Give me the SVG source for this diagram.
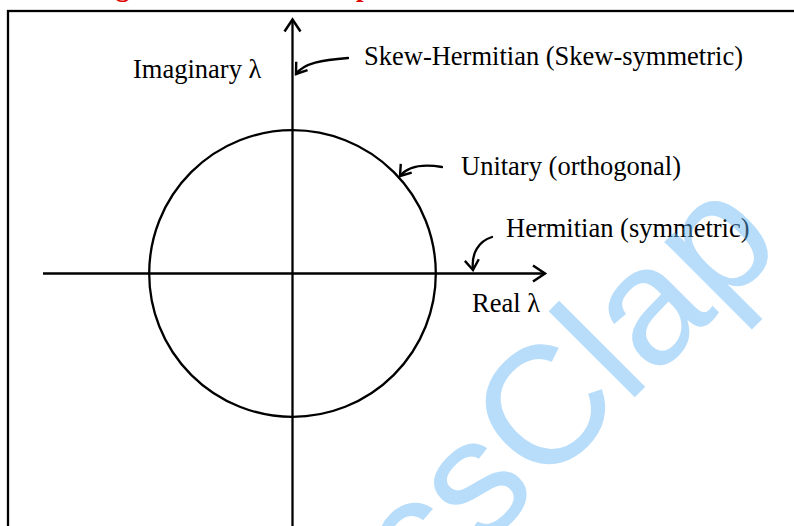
<svg xmlns="http://www.w3.org/2000/svg" width="794" height="526" viewBox="0 0 794 526">
<defs>
<style>
.ln{stroke:#000;stroke-width:2.3;fill:none}
.cv{stroke:#000;stroke-width:2.3;fill:none;stroke-linecap:round}
.lb{font-family:"Liberation Serif","Times New Roman",serif;font-size:26.5px;fill:#000}
.red{font-family:"Liberation Serif","Times New Roman",serif;font-size:27px;font-weight:bold;fill:#e00000}
.wm{font-family:"Liberation Sans",Arial,sans-serif;font-size:168px;fill:#64B5F6;opacity:0.45}
</style>
<marker id="ah" markerUnits="userSpaceOnUse" viewBox="-14 -10 16 20" markerWidth="16" markerHeight="20" refX="0" refY="0" orient="auto" overflow="visible">
<path d="M-12,-8 L0,0 L-12,8" fill="none" stroke="#000" stroke-width="2.5" stroke-linejoin="miter"/>
</marker>
<marker id="ch" markerUnits="userSpaceOnUse" viewBox="-12 -9 14 18" markerWidth="14" markerHeight="18" refX="0" refY="0" orient="auto" overflow="visible">
<path d="M-10,-7 L0,0 L-10,7" fill="none" stroke="#000" stroke-width="2.4" stroke-linejoin="miter"/>
</marker>
</defs>
<rect width="794" height="526" fill="#fff"/>
<text class="red" x="116" y="-4.5">g</text>
<text class="red" x="356" y="-4.5">p</text>
<rect id="frame" x="8" y="11" width="820" height="600" class="ln" stroke-width="2.6"/>
<g id="circle"><circle cx="292.5" cy="273.5" r="143.3" class="ln"/></g>
<g id="connectors">
<line x1="292.5" y1="540" x2="292.5" y2="19.5" class="ln" marker-end="url(#ah)"/>
<line x1="43" y1="273.5" x2="545" y2="273.5" class="ln" marker-end="url(#ah)"/>
<path d="M348,58 C322,60 304,63 296,74" class="cv" marker-end="url(#ch)"/>
<path d="M442,167 C424,164 408,166 400,176" class="cv" marker-end="url(#ch)"/>
<path d="M492,237 C479,241 471,253 473,270" class="cv" marker-end="url(#ch)"/>
</g>
<g id="imag"><text class="lb" x="133" y="78">Imaginary λ</text></g>
<g id="real"><text class="lb" x="472" y="312">Real λ</text></g>
<g id="skew"><text class="lb" x="364" y="65">Skew-Hermitian (Skew-symmetric)</text></g>
<g id="unitary"><text class="lb" x="461" y="175">Unitary (orthogonal)</text></g>
<g id="herm"><text class="lb" x="506" y="237">Hermitian (symmetric)</text></g>
<text class="wm" transform="translate(640,392) rotate(-45)" x="-308" y="0">csClap</text>
</svg>
